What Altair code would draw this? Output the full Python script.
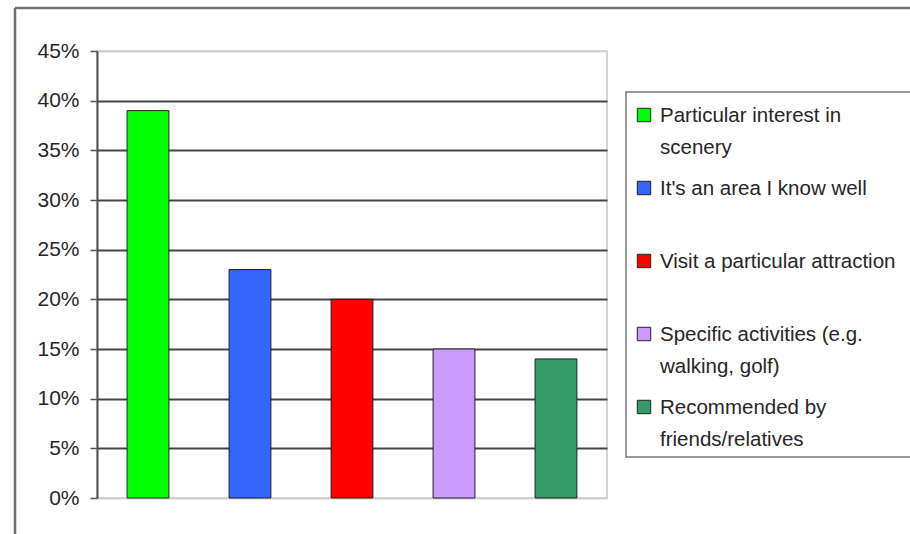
import altair as alt
import pandas as pd

categories = [
    "Particular interest in scenery",
    "It's an area I know well",
    "Visit a particular attraction",
    "Specific activities (e.g. walking, golf)",
    "Recommended by friends/relatives",
]
legend_labels = [
    "Particular interest in\nscenery",
    "It's an area I know well",
    "Visit a particular attraction",
    "Specific activities (e.g.\nwalking, golf)",
    "Recommended by\nfriends/relatives",
]
values = [0.39, 0.23, 0.20, 0.15, 0.14]
colors = ["#00FF00", "#3366FF", "#FF0000", "#CC99FF", "#339966"]
y_ticks = [0, 0.05, 0.10, 0.15, 0.20, 0.25, 0.30, 0.35, 0.40, 0.45]

df = pd.DataFrame({"category": categories, "value": values, "label": legend_labels})

FONT = "Liberation Sans, Arial, sans-serif"

color_scale = alt.Scale(domain=categories, range=colors)

bars = alt.Chart(df).mark_bar(stroke="#222222", strokeWidth=1).encode(
    x=alt.X("category:N", sort=categories, axis=None,
            scale=alt.Scale(paddingInner=0.59, paddingOuter=0.295)),
    y=alt.Y("value:Q",
            scale=alt.Scale(domain=[0, 0.45], nice=False, zero=True),
            axis=alt.Axis(values=y_ticks, format=".0%", title=None,
                          labelFont=FONT, labelFontSize=21, labelColor="#262626",
                          labelPadding=11, tickSize=7, tickColor="#505050", tickWidth=1.5,
                          domainColor="#505050", domainWidth=2,
                          grid=True, gridWidth=1.8,
                          gridColor={"condition": {"test": "datum.value <= 0 || datum.value >= 0.45",
                                                   "value": "#d0d0d0"},
                                     "value": "#444444"})),
    color=alt.Color("category:N", scale=color_scale, legend=None),
)

frame_top = alt.Chart(pd.DataFrame({"a": [0]})).mark_rule(color="#707070", strokeWidth=2.5).encode(
    x=alt.value(-82), x2=alt.value(900), y=alt.value(-43)
)
frame_left = alt.Chart(pd.DataFrame({"a": [0]})).mark_rule(color="#707070", strokeWidth=2.5).encode(
    x=alt.value(-82), y=alt.value(-43), y2=alt.value(600)
)

legend_box = alt.Chart(pd.DataFrame({"a": [0]})).mark_rect(
    fill="white", stroke="#777777", strokeWidth=1.5
).encode(x=alt.value(529), x2=alt.value(860), y=alt.value(41), y2=alt.value(406))

ly = alt.Y("category:N", sort=categories, axis=None,
           scale=alt.Scale(type="point", range=[64, 356], padding=0))

legend_sym = alt.Chart(df).mark_square(size=180, stroke="#222222", strokeWidth=1, opacity=1).encode(
    x=alt.value(547), y=ly,
    color=alt.Color("category:N", scale=color_scale, legend=None),
)

legend_txt = alt.Chart(df).mark_text(
    align="left", baseline="alphabetic", dy=7, lineBreak="\n", lineHeight=32,
    font=FONT, fontSize=20.5, color="#262626"
).encode(x=alt.value(563), y=ly, text="label:N")

chart = alt.layer(frame_top, frame_left, bars, legend_box, legend_sym, legend_txt).resolve_scale(
    y="independent"
).properties(
    width=510, height=447,
    padding={"left": 97, "top": 51, "right": 303, "bottom": 36},
    autosize=alt.AutoSizeParams(type="none"),
    background="white",
).configure_view(stroke="#c8c8c8", strokeWidth=1.5)

chart.save("out.html", embed_options={"renderer": "svg", "actions": False})
